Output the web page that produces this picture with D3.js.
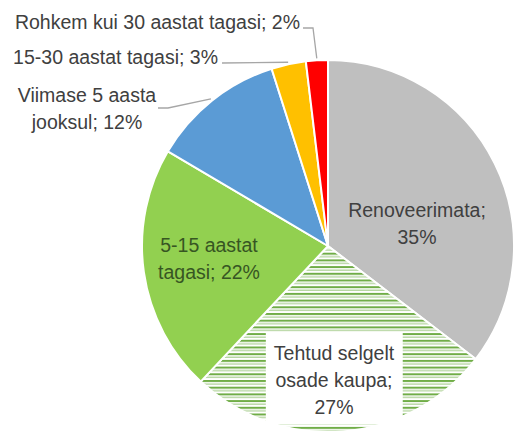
<!DOCTYPE html>
<html>
<head>
<meta charset="utf-8">
<script src="https://cdn.jsdelivr.net/npm/d3@7"></script>
<style>
  html, body { margin: 0; padding: 0; background: #fff; }
  svg { display: block; }
</style>
</head>
<body>
<svg id="chart" width="517" height="437"></svg>
<script>
// ---- data ----
const categories = ["Renoveerimata", "Tehtud selgelt osade kaupa", "5-15 aastat tagasi", "Viimase 5 aasta jooksul", "15-30 aastat tagasi", "Rohkem kui 30 aastat tagasi"];
const values = [35.4, 26.6, 21.5, 11.6, 3.0, 1.9];
const percentLabels = ["35%", "27%", "22%", "12%", "3%", "2%"];

// ---- styling / layout ----
const colors = ["#BFBFBF", "url(#stripes)", "#92D050", "#5B9BD5", "#FFC000", "#FF0000"];
const W = 517, H = 437;
const cx = 328, cy = 246, R = 186;
const fontSize = 19.5, lineH = 26.8;
const labelLayout = [
  { words: [1, 1], x: 417, y: 217, anchor: "middle", color: "#404040" },
  { words: [2, 2, 1], x: 334, y: 360, anchor: "middle", color: "#404040", box: true },
  { words: [2, 2], x: 209, y: 252, anchor: "middle", color: "#375623" },
  { words: [3, 2], x: 87, y: 102, anchor: "middle", color: "#404040", leader: [[168, 108], [158, 108]] },
  { words: [4], x: 218, y: 64, anchor: "end", color: "#404040", leader: [[222, 63]] },
  { words: [6], x: 300, y: 29, anchor: "end", color: "#404040", leader: [[313, 28], [303, 28]] }
];

const svg = d3.select("#chart");
const defs = svg.append("defs");
const pat = defs.append("pattern")
  .attr("id", "stripes").attr("patternUnits", "userSpaceOnUse")
  .attr("width", 8).attr("height", 6.7);
pat.append("rect").attr("width", 8).attr("height", 6.7).attr("fill", "#fff");
pat.append("rect").attr("y", 0).attr("width", 8).attr("height", 2).attr("fill", "#70AD47");
pat.append("rect").attr("y", 3.35).attr("width", 8).attr("height", 1.4).attr("fill", "#B5D6A0");

const pie = d3.pie().sort(null).value(d => d.v).startAngle(0).endAngle(2 * Math.PI);
const data = categories.map((c, i) => ({ c, v: values[i], p: percentLabels[i], i }));
const arcs = pie(data);
const arc = d3.arc().innerRadius(0).outerRadius(R);

const g = svg.append("g").attr("transform", `translate(${cx},${cy})`);
g.selectAll("path.slice").data(arcs).join("path")
  .attr("class", "slice")
  .attr("d", arc)
  .attr("fill", d => colors[d.data.i])
  .attr("stroke", "#fff")
  .attr("stroke-width", 2)
  .attr("stroke-linejoin", "round");

// leader lines
const leaderArc = d3.arc().innerRadius(R + 2).outerRadius(R + 2);
arcs.forEach(a => {
  const L = labelLayout[a.data.i];
  if (!L.leader) return;
  const mid = (a.startAngle + a.endAngle) / 2;
  const p0 = [cx + (R + 2) * Math.sin(mid), cy - (R + 2) * Math.cos(mid)];
  const pts = [p0, ...L.leader];
  svg.append("path")
    .attr("d", d3.line()(pts))
    .attr("fill", "none")
    .attr("stroke", "#A6A6A6")
    .attr("stroke-width", 1.3);
});

// labels
arcs.forEach(a => {
  const L = labelLayout[a.data.i];
  const words = (a.data.c + "; " + a.data.p).split(" ");
  const lines = [];
  let k = 0;
  L.words.forEach(n => { lines.push(words.slice(k, k + n).join(" ")); k += n; });
  const lg = svg.append("g");
  const t = lg.append("text")
    .attr("font-family", "'Liberation Sans', Arial, sans-serif")
    .attr("font-size", fontSize)
    .attr("fill", L.color)
    .attr("text-anchor", L.anchor);
  lines.forEach((ln, j) => {
    t.append("tspan").attr("x", L.x).attr("y", L.y + j * lineH).text(ln);
  });
  if (L.box) {
    const bb = t.node().getBBox();
    lg.insert("rect", "text")
      .attr("x", bb.x - 8).attr("y", bb.y - 9)
      .attr("width", bb.width + 16).attr("height", bb.height + 16)
      .attr("fill", "#fff");
  }
});
</script>
</body>
</html>
